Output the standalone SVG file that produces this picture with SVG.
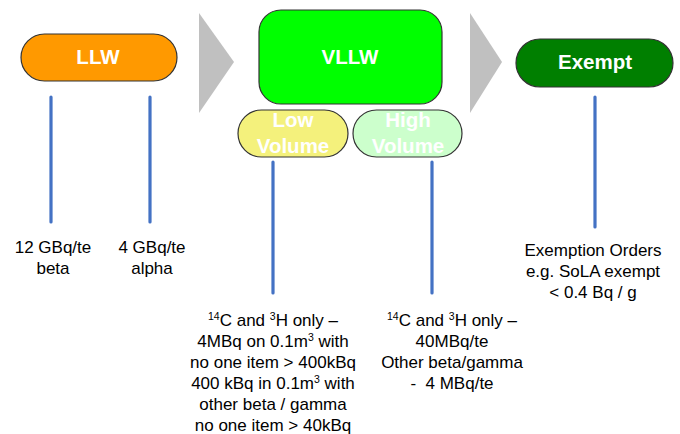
<svg xmlns="http://www.w3.org/2000/svg" width="680" height="434" viewBox="0 0 680 434">
  <style>
    .pill { stroke: #333333; stroke-width: 1.2; }
    .label { font-family: "Liberation Sans", Arial, sans-serif; font-weight: bold; font-size: 20.5px; fill: #ffffff; text-anchor: middle; }
    .note { font-family: "Liberation Sans", Arial, sans-serif; font-size: 17px; fill: #000000; text-anchor: middle; }
    .sup { font-size: 10.5px; }
    .stem { stroke: #4472C4; stroke-width: 3.2; stroke-linecap: round; fill: none; }
    .chevron { fill: #C0C0C0; }
  </style>
  <rect width="680" height="434" fill="#ffffff"/>

  <!-- progression chevrons -->
  <g id="chevrons">
    <polygon class="chevron" points="199,13 234,62 199,113"/>
    <polygon class="chevron" points="470,13 502,62 470,113"/>
  </g>

  <g id="llw">
    <rect class="pill" x="21" y="34" width="156" height="47" rx="23.5" fill="#FF9900"/>
    <text class="label" x="98" y="64">LLW</text>
  </g>

  <g id="vllw">
    <rect class="pill" x="259" y="10" width="183" height="94" rx="22" fill="#00FF00"/>
    <text class="label" x="350" y="64">VLLW</text>
  </g>

  <g id="low-volume">
    <rect class="pill" x="238" y="110" width="110" height="47" rx="23.5" fill="#F4F17C"/>
    <text class="label" x="293" y="127">Low</text>
    <text class="label" x="293" y="153">Volume</text>
  </g>

  <g id="high-volume">
    <rect class="pill" x="353" y="110" width="109" height="47" rx="23.5" fill="#CCFFCC"/>
    <text class="label" x="408" y="127">High</text>
    <text class="label" x="408" y="153">Volume</text>
  </g>

  <g id="exempt">
    <rect class="pill" x="516" y="39" width="157" height="48" rx="24" fill="#007F00"/>
    <text class="label" x="595" y="69">Exempt</text>
  </g>

  <!-- stems from each category down to its limits -->
  <g id="connectors">
    <line class="stem" x1="51" y1="97" x2="51" y2="222"/>
    <line class="stem" x1="150" y1="97" x2="150" y2="222"/>
    <line class="stem" x1="273" y1="162" x2="273" y2="293"/>
    <line class="stem" x1="432" y1="162" x2="432" y2="293"/>
    <line class="stem" x1="595" y1="97" x2="595" y2="227"/>
  </g>

  <g id="llw-beta">
    <text class="note" x="53" y="253">12 GBq/te</text>
    <text class="note" x="53" y="274">beta</text>
  </g>

  <g id="llw-alpha">
    <text class="note" x="152" y="253">4 GBq/te</text>
    <text class="note" x="152" y="274">alpha</text>
  </g>

  <g id="low-volume-limits">
    <text class="note" x="273" y="326"><tspan class="sup" dy="-6">14</tspan><tspan dy="6">C and </tspan><tspan class="sup" dy="-6">3</tspan><tspan dy="6">H only –</tspan></text>
    <text class="note" x="273" y="347">4MBq on 0.1m<tspan class="sup" dy="-6">3</tspan><tspan dy="6"> with</tspan></text>
    <text class="note" x="273" y="368">no one item &gt; 400kBq</text>
    <text class="note" x="273" y="389">400 kBq in 0.1m<tspan class="sup" dy="-6">3</tspan><tspan dy="6"> with</tspan></text>
    <text class="note" x="273" y="410">other beta / gamma</text>
    <text class="note" x="273" y="431">no one item &gt; 40kBq</text>
  </g>

  <g id="high-volume-limits">
    <text class="note" x="452" y="326"><tspan class="sup" dy="-6">14</tspan><tspan dy="6">C and </tspan><tspan class="sup" dy="-6">3</tspan><tspan dy="6">H only –</tspan></text>
    <text class="note" x="452" y="347">40MBq/te</text>
    <text class="note" x="452" y="368">Other beta/gamma</text>
    <text class="note" x="452" y="389">-&#160; 4 MBq/te</text>
  </g>

  <g id="exempt-limits">
    <text class="note" x="593" y="256">Exemption Orders</text>
    <text class="note" x="593" y="277">e.g. SoLA exempt</text>
    <text class="note" x="593" y="298">&lt; 0.4 Bq / g</text>
  </g>
</svg>
